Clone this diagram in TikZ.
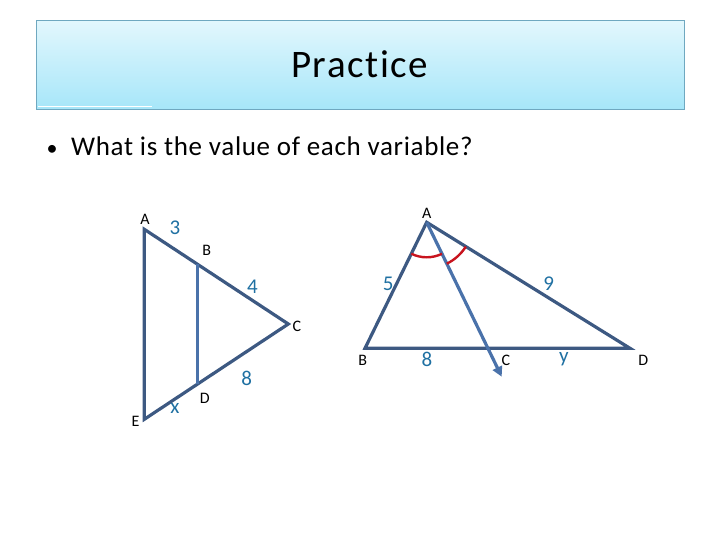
\documentclass[tikz,border=0pt]{standalone}
\usepackage{fontspec}
\setmainfont{Carlito}[Ligatures={NoCommon,NoRare,NoContextual}]
\usetikzlibrary{arrows.meta}
\definecolor{tri}{RGB}{61,89,130}
\definecolor{seg}{RGB}{74,114,170}
\definecolor{lblue}{RGB}{31,112,162}
\definecolor{arcred}{RGB}{200,20,30}
\definecolor{boxtop}{RGB}{226,247,253}
\definecolor{boxbot}{RGB}{166,230,249}
\definecolor{boxedge}{RGB}{111,168,192}
\tikzset{
  triline/.style={draw=tri,line width=3.2pt,line join=miter},
  segline/.style={draw=seg,line width=3.2pt},
  vlabel/.style={anchor=base,font=\fontsize{16}{18}\selectfont,text=black,inner sep=0pt},
  nlabel/.style={anchor=base,font=\fontsize{21}{23}\selectfont,text=lblue,inner sep=0pt},
  anglearc/.style={draw=arcred,line width=2.4pt}
}
\begin{document}
\begin{tikzpicture}[x=1pt,y=1pt]
\path[use as bounding box] (0,0) rectangle (720,-540);
% title box
\shade[top color=boxtop,bottom color=boxbot] (36,-21) rectangle (684,-110);
\draw[boxedge,line width=1pt] (36,-21) rectangle (684,-110);
\draw[white,line width=1pt] (38,-106.5) -- (152,-106.5);
\node[anchor=base,inner sep=0pt,font=\fontsize{39}{41}\selectfont\addfontfeature{LetterSpace=4}] (title) at (359.5,-77.3) {Practice};
% bullet
\node[anchor=base,inner sep=0pt,font=\fontsize{22}{24}\selectfont] (bul) at (52,-155.5) {•};
\node[anchor=base west,inner sep=0pt,font=\fontsize{27}{29}\selectfont\addfontfeature{LetterSpace=2.5}] (q) at (71,-155.5) {What is the value of each variable?};
% left figure
\coordinate (LA) at (144.3,-229.3);
\coordinate (LE) at (144.3,-419.3);
\coordinate (LC) at (288.3,-324);
\coordinate (LB) at (197.7,-264.4);
\coordinate (LD) at (197.7,-383.6);
\draw[triline] (LA) -- (LC) -- (LE) -- cycle;
\draw[segline] (LB) -- (LD);
\node[vlabel] (lA) at (145,-225) {A};
\node[nlabel] (l3) at (175,-235) {3};
\node[vlabel] (lB) at (206.7,-255) {B};
\node[nlabel] (l4) at (252.5,-293.3) {4};
\node[vlabel] (lC) at (297,-331.7) {C};
\node[nlabel] (l8) at (246.7,-385) {8};
\node[vlabel] (lD) at (204.7,-403.3) {D};
\node[nlabel] (lx) at (175,-413.3) {x};
\node[vlabel] (lE) at (135.5,-426.7) {E};
% right figure
\coordinate (RA) at (426.7,-222.3);
\coordinate (RB) at (365,-348.3);
\coordinate (RD) at (630,-348.3);
\coordinate (RT) at (501.7,-376.7);
\draw[triline] (RA) -- (RB) -- (RD) -- cycle;
\draw[seg,line width=3.2pt,-{Triangle[length=10pt,width=10pt]}] (RA) -- (RT);
\draw[anglearc] ([shift={(243.9:35)}]RA) arc (243.9:295.9:35);
\draw[anglearc] ([shift={(295.9:46)}]RA) arc (295.9:328.2:46);
\node[vlabel] (rA) at (426.7,-218.3) {A};
\node[nlabel] (r5) at (388.3,-290) {5};
\node[nlabel] (r9) at (548.7,-290) {9};
\node[vlabel] (rB) at (362.8,-365) {B};
\node[nlabel] (r8) at (427,-366.7) {8};
\node[vlabel] (rC) at (505.8,-365) {C};
\node[nlabel] (ry) at (563.8,-362) {y};
\node[vlabel] (rD) at (643.3,-365) {D};
\end{tikzpicture}
\end{document}
